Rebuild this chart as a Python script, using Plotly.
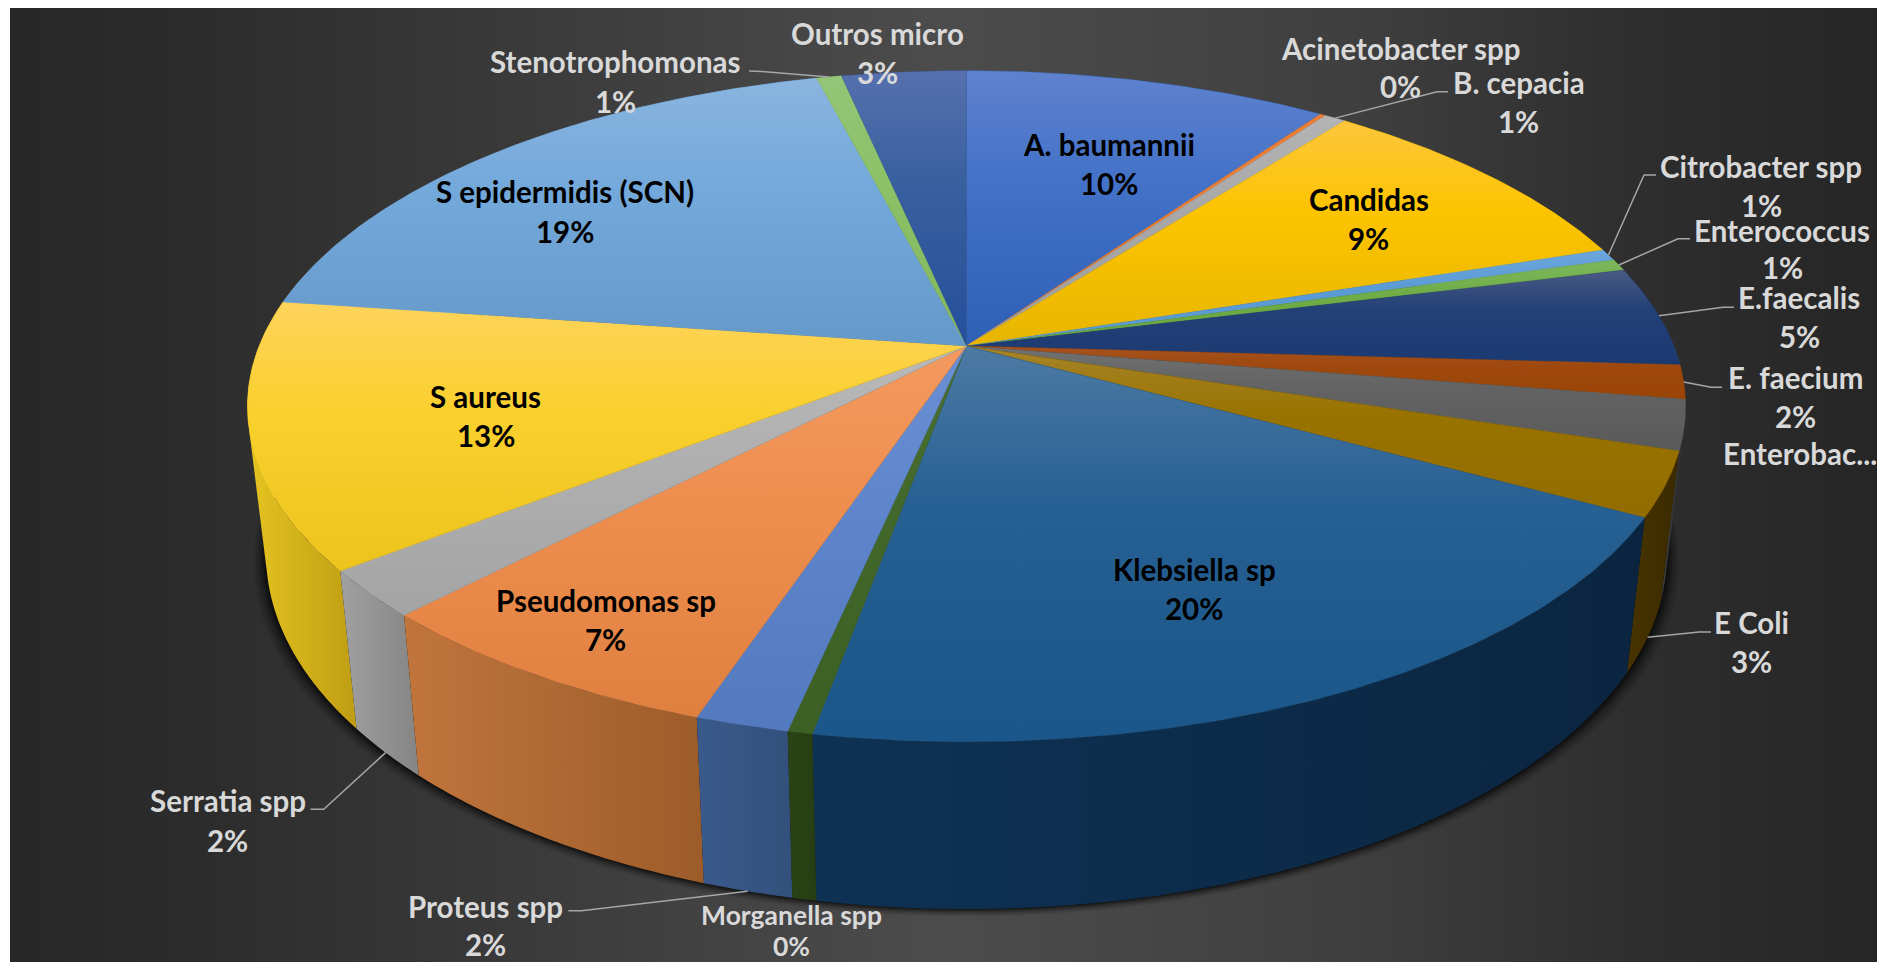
import math
import plotly.graph_objects as go

# ---- data -------------------------------------------------------------
categories = ["A. baumannii", "Acinetobacter spp", "B. cepacia", "Candidas", "Citrobacter spp",
              "Enterococcus", "E.faecalis", "E. faecium", "Enterobac...", "E Coli", "Klebsiella sp",
              "Morganella spp", "Proteus spp", "Pseudomonas sp", "Serratia spp", "S aureus",
              "S epidermidis (SCN)", "Stenotrophomonas", "Outros micro"]
values = [9.72, 0.15, 0.58, 9.49, 0.57, 0.56, 4.83, 1.64, 2.39, 3.08, 19.84, 0.47, 1.78, 7.04,
          2.26, 12.79, 18.77, 0.67, 3.33]

# ---- styles -------------------------------------------------------------
top_colors = [
    ("#5f82ce", "#4372c8", "#2e60b6"), ("#ED7D31", "#ED7D31", "#ED7D31"), ("#b4b4b4", "#a8a8a8", "#a0a0a0"),
    ("#fdc63c", "#fdc400", "#e8b600"), ("#6ba6dc", "#5b9bd5", "#5b9bd5"), ("#7cb85c", "#70AD47", "#68a53c"),
    ("#4a5a84", "#234177", "#1c3a72"), ("#a8521f", "#9E480E", "#9a4505"), ("#717171", "#636363", "#5a5a5a"),
    ("#a6842a", "#997300", "#936c00"), ("#4c7aa4", "#276093", "#1a5689"), ("#4a7030", "#43682B", "#3c6024"),
    ("#6b8fd4", "#5f86cc", "#5379bf"), ("#f39a60", "#ee8f50", "#e08040"), ("#b9b9b9", "#b0b0b0", "#a4a4a4"),
    ("#fdd35c", "#fad02e", "#ecc41c"), ("#8ab5df", "#74a9db", "#6599ca"), ("#94c578", "#8cc168", "#84b85e"),
    ("#5770ae", "#39609f", "#244f9b"),
]
wall_colors = [
    ("#2a4a80", "#2a4a80"), ("#8a4a20", "#8a4a20"), ("#666666", "#666666"), ("#a07800", "#a07800"),
    ("#3a6a90", "#3a6a90"), ("#4a7030", "#4a7030"), ("#16264a", "#16264a"), ("#5a2a08", "#5a2a08"),
    ("#3c3c3c", "#2e2e2e"), ("#483400", "#3a2a00"), ("#0e3254", "#0b2540"), ("#2a4316", "#263e13"),
    ("#3a5a8c", "#33507c"), ("#c1753c", "#9c5c2a"), ("#a0a0a0", "#858585"), ("#e5c420", "#bf9d14"),
    ("#6a8db0", "#6a8db0"), ("#6a9050", "#6a9050"), ("#2a4678", "#2a4678"),
]
INSIDE, OUTSIDE = "#000000", "#d9d9d9"
LABEL_SIZE = 29.5
label_layout = {  # x centre, name line y, percent line y, colour, font size
    "A. baumannii": (1108.6, 144, 183, INSIDE, LABEL_SIZE),
    "Acinetobacter spp": (1400, 48, 86, OUTSIDE, LABEL_SIZE),
    "B. cepacia": (1518.6, 82.7, 121, OUTSIDE, LABEL_SIZE),
    "Candidas": (1368.6, 199.3, 238, INSIDE, LABEL_SIZE),
    "Citrobacter spp": (1761, 166.7, 205, OUTSIDE, LABEL_SIZE),
    "Enterococcus": (1782, 230, 267.7, OUTSIDE, LABEL_SIZE),
    "E.faecalis": (1799, 297.7, 336.7, OUTSIDE, LABEL_SIZE),
    "E. faecium": (1795, 377.3, 416, OUTSIDE, LABEL_SIZE),
    "Enterobac...": (1800, 453, None, OUTSIDE, LABEL_SIZE),
    "E Coli": (1751.7, 622.7, 661.7, OUTSIDE, LABEL_SIZE),
    "Klebsiella sp": (1194, 569.3, 608, INSIDE, LABEL_SIZE),
    "Morganella spp": (791.4, 915, 946, OUTSIDE, 26.5),
    "Proteus spp": (485.6, 906.7, 944, OUTSIDE, LABEL_SIZE),
    "Pseudomonas sp": (605.5, 600.7, 639, INSIDE, LABEL_SIZE),
    "Serratia spp": (227.8, 800.7, 840, OUTSIDE, LABEL_SIZE),
    "S aureus": (485.6, 396.7, 435, INSIDE, LABEL_SIZE),
    "S epidermidis (SCN)": (564.7, 191.7, 231, INSIDE, LABEL_SIZE),
    "Stenotrophomonas": (615, 61.7, 101, OUTSIDE, LABEL_SIZE),
    "Outros micro": (877.5, 33, 72, OUTSIDE, LABEL_SIZE),
}
leader_layout = {  # tail start, tail end, rim level
    "B. cepacia": ((1448, 91.7), (1437, 91.7), "top"),
    "Citrobacter spp": ((1656, 175), (1644, 175), "top"),
    "Enterococcus": ((1690, 238.7), (1678, 238.7), "top"),
    "E.faecalis": ((1734, 307.3), (1723, 307.3), "top"),
    "E. faecium": ((1722, 387.3), (1711, 387.3), "top"),
    "E Coli": ((1711, 632), (1699, 632), "bottom"),
    "Serratia spp": ((310.5, 809.3), (323.7, 809.3), "bottom"),
    "Proteus spp": ((568.3, 910.7), (581.5, 910.7), "bottom"),
    "Stenotrophomonas": ((749, 71), (762, 71.5), "top"),
}

# ---- perspective of the disc ----------------------------------------------
CX, CY, A, B, K = 966.5, 346.0, 707.4, 324.7, 0.1795
BOT_SX, BOT_SY, BOT_Y0 = 0.974, 1.056, 491.1


def project(theta_deg, level="top"):
    t = math.radians(theta_deg)
    X, Y = math.sin(t), math.cos(t)
    w = 1 + K * Y
    x, y = CX + A * X / w, CY - B * Y / w
    if level == "bottom":
        return CX + BOT_SX * (x - CX), BOT_Y0 + BOT_SY * (y - CY)
    return x, y


def arc(t0, t1, level="top"):
    n = max(2, int(abs(t1 - t0) / 0.5) + 1)
    return [project(t0 + (t1 - t0) * i / (n - 1), level) for i in range(n)]


def oriented(quad):
    """Same winding for every quad, so overlapping quads at the fold do not cancel."""
    area = sum(quad[k][0] * quad[(k + 1) % 4][1] - quad[(k + 1) % 4][0] * quad[k][1] for k in range(4))
    return quad if area >= 0 else quad[::-1]


total = sum(values)
angles = [0.0]
for v in values:
    angles.append(angles[-1] + v / total * 360)

fig = go.Figure()

# background panel
fig.add_trace(go.Scatter(
    x=[10, 1877, 1877, 10, 10], y=[8, 8, 962, 962, 8], mode="lines", line=dict(width=0), fill="toself",
    fillgradient=dict(type="horizontal", start=10, stop=1877, colorscale=[
        [0, "#272727"], [0.1, "#2c2c2c"], [0.27, "#3a3a3a"], [0.5, "#4c4c4c"],
        [0.72, "#3f3f3f"], [0.87, "#2e2e2e"], [1, "#262626"]]),
    hoverinfo="skip", showlegend=False))

# soft shadow under the disc
whole_bottom = arc(0, 360, "bottom")
for off, alpha in [(13, 0.05), (11, 0.07), (9, 0.09), (7, 0.12), (5, 0.18), (3, 0.25), (1, 0.35)]:
    fig.add_trace(go.Scatter(
        x=[CX + (p[0] - CX) * (1 + off / 700) for p in whole_bottom],
        y=[p[1] + off * 0.6 for p in whole_bottom],
        mode="lines", line=dict(width=0), fill="toself", fillcolor=f"rgba(0,0,0,{alpha})",
        hoverinfo="skip", showlegend=False))

# walls, back first; each wall is a run of small quads so the fold at the silhouette stays filled
order = sorted(range(len(values)), key=lambda i: math.cos(math.radians((angles[i] + angles[i + 1]) / 2)), reverse=True)
for i in order:
    top = arc(angles[i], angles[i + 1], "top")
    bot = arc(angles[i], angles[i + 1], "bottom")
    xs, ys = [], []
    for j in range(len(top) - 1):
        quad = oriented([top[j], top[j + 1], bot[j + 1], bot[j]])
        quad = quad + [quad[0]]
        xs += [p[0] for p in quad] + [None]
        ys += [p[1] for p in quad] + [None]
    real_x = [v for v in xs if v is not None]
    fig.add_trace(go.Scatter(
        x=xs, y=ys, mode="lines", line=dict(width=0), fill="toself",
        fillgradient=dict(type="horizontal", start=min(real_x), stop=max(real_x),
                          colorscale=[[0, wall_colors[i][0]], [1, wall_colors[i][1]]]),
        name=categories[i], hoverinfo="skip", showlegend=False))

# top faces
for i in range(len(values)):
    rim = arc(angles[i], angles[i + 1], "top")
    pts = [(CX, CY)] + rim + [(CX, CY)]
    xs = [p[0] for p in pts]
    ys = [p[1] for p in pts]
    c0, c1, c2 = top_colors[i]
    fig.add_trace(go.Scatter(
        x=xs, y=ys, mode="lines", line=dict(width=0.4, color=c1), fill="toself",
        fillgradient=dict(type="vertical", start=min(ys), stop=max(ys),
                          colorscale=[[0, c0], [0.4, c1], [1, c2]]),
        name=categories[i], hoverinfo="skip", showlegend=False))

# leader lines
for name, (p0, p1, level) in leader_layout.items():
    i = categories.index(name)
    rim = project((angles[i] + angles[i + 1]) / 2, level)
    fig.add_trace(go.Scatter(
        x=[p0[0], p1[0], rim[0]], y=[p0[1], p1[1], rim[1]], mode="lines",
        line=dict(color="#a6a6a6", width=1.5), hoverinfo="skip", showlegend=False))

# labels
annotations = []
for i, name in enumerate(categories):
    x, y1, y2, col, size = label_layout[name]
    font = dict(family="Lato", size=size, color=col, weight=700)
    annotations.append(dict(x=x, y=y1, text=name, showarrow=False, font=font,
                            xanchor="center", yanchor="middle", xref="x", yref="y"))
    if y2 is not None:
        annotations.append(dict(x=x, y=y2, text=f"{round(values[i] / total * 100)}%", showarrow=False,
                                font=font, xanchor="center", yanchor="middle", xref="x", yref="y"))

fig.update_layout(
    width=1877, height=962, autosize=False,
    margin=dict(l=0, r=0, t=0, b=0), paper_bgcolor="white", plot_bgcolor="white",
    xaxis=dict(range=[0, 1877], visible=False, fixedrange=True),
    yaxis=dict(range=[962, 0], visible=False, fixedrange=True),
    annotations=annotations, showlegend=False,
)
fig.write_html("out.html", config={"displayModeBar": False},
               post_script="document.body.style.margin='0';document.body.style.overflow='hidden';")
